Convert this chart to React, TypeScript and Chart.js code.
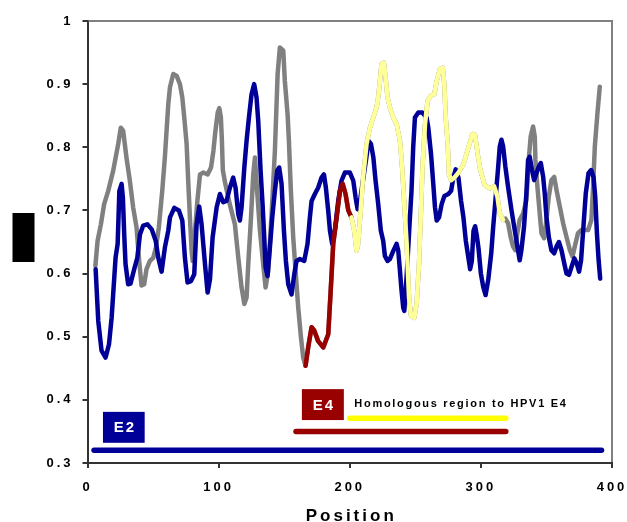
import React, { useEffect, useRef } from "react";
import { Chart, registerables } from "chart.js";

Chart.register(...registerables);

// Gray series (full profile); red and yellow are highlighted parts of it
const grayPos = [6, 7.7, 10.2, 12.7, 15.8, 19.6, 23.4, 25.4, 27.2, 29.7, 32.3, 34.8, 37.4, 39.4, 41.2, 43.2, 45, 47.6, 50.1, 52.2, 54.4, 57, 59, 60.3, 61.6, 62.9, 65.4, 68, 70.5, 72.3, 73.8, 75.6, 76.8, 78.1, 79.4, 80.2, 82, 83.8, 85.8, 88.4, 91.6, 94.2, 96, 97.3, 99.3, 100.5, 101.7, 102.5, 103.2, 105, 108.5, 112.4, 115, 117.5, 119.6, 121.3, 122.6, 124.7, 126.4, 127.7, 129, 131.5, 134, 135.8, 137.8, 140.4, 142.9, 145, 146.7, 149.3, 150.5, 152.6, 153.6, 155.1, 156.9, 158.7, 160.7, 162.8, 164.5, 166.3, 168.3, 170.9, 172.9, 175.9, 179.8, 183.6, 185.6, 187.4, 190, 192.5, 194.6, 196.8, 198.9, 201.3, 203.4, 205.2, 206.4, 208.5, 210.2, 212.8, 215.4, 217.9, 220.4, 221.7, 223, 224.2, 226, 227.3, 228.8, 230.6, 233.2, 235.7, 238.3, 240.1, 241.6, 243.4, 245.2, 246.7, 249.2, 251, 252.8, 254.3, 255.6, 257.4, 259.4, 262, 264.5, 266.3, 268.8, 270.9, 272.1, 273.2, 274.7, 275.7, 277.3, 279.8, 282.9, 286.7, 290.5, 293.5, 295.5, 297.5, 299.5, 302.9, 306.8, 310.1, 312.6, 314.4, 316.9, 318.7, 320.7, 322.7, 324.5, 326.3, 327.8, 329.6, 332.2, 334.7, 336.5, 338, 339.8, 341.1, 341.6, 343.1, 344.9, 346.2, 348.2, 350, 351.8, 353.8, 355.9, 357.7, 360.2, 362.8, 365.3, 367.9, 369.9, 371.6, 374.1, 376.7, 379.2, 381.8, 384.3, 385.6, 386.9, 388.9, 390.7];
const grayVal = [0.612, 0.652, 0.678, 0.71, 0.731, 0.763, 0.805, 0.831, 0.826, 0.784, 0.747, 0.705, 0.673, 0.62, 0.581, 0.583, 0.607, 0.62, 0.625, 0.641, 0.673, 0.731, 0.784, 0.826, 0.868, 0.895, 0.916, 0.913, 0.9, 0.879, 0.847, 0.805, 0.747, 0.689, 0.636, 0.62, 0.668, 0.715, 0.757, 0.76, 0.757, 0.768, 0.794, 0.821, 0.855, 0.862, 0.848, 0.811, 0.764, 0.743, 0.71, 0.678, 0.625, 0.578, 0.552, 0.562, 0.615, 0.689, 0.757, 0.784, 0.742, 0.668, 0.615, 0.578, 0.604, 0.694, 0.794, 0.916, 0.958, 0.953, 0.905, 0.852, 0.81, 0.731, 0.657, 0.604, 0.546, 0.499, 0.467, 0.454, 0.483, 0.515, 0.51, 0.493, 0.483, 0.504, 0.578, 0.647, 0.689, 0.731, 0.742, 0.726, 0.7, 0.689, 0.668, 0.636, 0.647, 0.705, 0.752, 0.805, 0.831, 0.847, 0.863, 0.879, 0.905, 0.932, 0.934, 0.911, 0.879, 0.863, 0.847, 0.837, 0.81, 0.763, 0.71, 0.647, 0.562, 0.533, 0.53, 0.552, 0.615, 0.699, 0.773, 0.837, 0.874, 0.882, 0.884, 0.905, 0.924, 0.926, 0.9, 0.847, 0.805, 0.757, 0.748, 0.752, 0.76, 0.773, 0.8, 0.821, 0.82, 0.79, 0.765, 0.74, 0.735, 0.738, 0.722, 0.695, 0.685, 0.687, 0.68, 0.658, 0.643, 0.637, 0.664, 0.685, 0.695, 0.716, 0.78, 0.817, 0.833, 0.817, 0.78, 0.738, 0.695, 0.664, 0.656, 0.685, 0.722, 0.748, 0.753, 0.732, 0.706, 0.679, 0.658, 0.637, 0.627, 0.643, 0.664, 0.669, 0.669, 0.669, 0.685, 0.738, 0.801, 0.854, 0.896];

const redRange = [166.3, 201.3];
const yellowRange = [201.3, 316.9];

// Blue series
const bluePos = [6.2, 8.2, 10.7, 13.8, 16.4, 18.4, 21.4, 23, 24.3, 26, 27, 28, 29, 31, 32.8, 36, 38, 40, 42.5, 45.6, 49, 52, 54, 56.5, 59, 61.6, 62.9, 66.2, 69.7, 72.3, 74.3, 76.3, 78.9, 81.4, 83.2, 85.2, 87, 89.6, 91.6, 93.4, 95.4, 98.5, 101, 103.5, 106, 108.6, 111.1, 112.9, 115, 116.2, 117.5, 119.6, 121.3, 123.1, 125.1, 127.1, 128.9, 130.2, 132, 133.5, 134.8, 135.8, 137.3, 139.1, 140.9, 142.9, 144.7, 146.2, 148, 149.8, 151.3, 153.1, 155.6, 157.7, 159.4, 162, 165.3, 167.8, 169.6, 170.9, 173.4, 175.9, 178.5, 180.3, 181.8, 183.6, 184.9, 186.6, 188.6, 191.2, 193.7, 196.3, 200.1, 202.7, 204.5, 206, 207.8, 211, 214.5, 216.2, 218, 219.7, 221.7, 223.7, 225.5, 226.8, 228.8, 230.6, 233.2, 235.7, 237, 238.3, 239.5, 240.8, 241.6, 243.5, 245.9, 247.1, 248.4, 249.7, 252.3, 255.3, 258.6, 259.9, 262, 263.7, 265, 266.3, 268.1, 270.1, 272.2, 275.2, 277.3, 279, 280.8, 282.9, 284.9, 286.7, 288.5, 290.5, 291.8, 293.1, 294.4, 295.6, 296.9, 298.2, 300, 301.8, 303.6, 305.6, 307.9, 309.4, 311.1, 313.2, 314.4, 315.7, 317, 318.7, 320.7, 323.3, 325.8, 328.3, 329.6, 330.9, 332.9, 334.7, 336, 337.2, 339, 340.6, 342.4, 344.1, 345.7, 347.5, 348.7, 350, 351.8, 353.8, 355.9, 357.7, 359.5, 361.5, 363.6, 365.3, 367.2, 369.2, 371.3, 373.1, 374.9, 376.4, 378.2, 380, 382.1, 384.1, 385.9, 387.2, 388.5, 389.8, 391];
const blueVal = [0.607, 0.525, 0.478, 0.467, 0.488, 0.53, 0.625, 0.647, 0.731, 0.742, 0.72, 0.662, 0.615, 0.583, 0.584, 0.61, 0.625, 0.662, 0.676, 0.678, 0.67, 0.652, 0.625, 0.603, 0.641, 0.668, 0.689, 0.704, 0.7, 0.684, 0.625, 0.586, 0.588, 0.599, 0.678, 0.706, 0.678, 0.615, 0.57, 0.591, 0.657, 0.705, 0.726, 0.713, 0.715, 0.736, 0.752, 0.736, 0.694, 0.684, 0.705, 0.768, 0.81, 0.847, 0.884, 0.9, 0.879, 0.842, 0.763, 0.71, 0.657, 0.61, 0.596, 0.641, 0.689, 0.731, 0.763, 0.768, 0.742, 0.668, 0.62, 0.583, 0.567, 0.599, 0.62, 0.623, 0.62, 0.647, 0.689, 0.715, 0.726, 0.736, 0.752, 0.757, 0.736, 0.699, 0.668, 0.647, 0.668, 0.715, 0.747, 0.76, 0.76, 0.747, 0.72, 0.702, 0.715, 0.76, 0.81, 0.805, 0.784, 0.747, 0.71, 0.668, 0.652, 0.628, 0.62, 0.623, 0.636, 0.647, 0.636, 0.604, 0.573, 0.546, 0.541, 0.6, 0.689, 0.731, 0.8, 0.847, 0.855, 0.855, 0.847, 0.831, 0.789, 0.742, 0.705, 0.684, 0.689, 0.71, 0.723, 0.726, 0.731, 0.752, 0.765, 0.752, 0.715, 0.689, 0.652, 0.625, 0.607, 0.62, 0.668, 0.675, 0.66, 0.64, 0.6, 0.579, 0.566, 0.59, 0.632, 0.674, 0.716, 0.769, 0.801, 0.812, 0.801, 0.769, 0.738, 0.701, 0.669, 0.637, 0.621, 0.637, 0.674, 0.727, 0.78, 0.785, 0.764, 0.748, 0.759, 0.769, 0.775, 0.753, 0.727, 0.69, 0.658, 0.637, 0.632, 0.643, 0.65, 0.637, 0.616, 0.6, 0.598, 0.611, 0.624, 0.616, 0.603, 0.621, 0.674, 0.727, 0.759, 0.764, 0.753, 0.722, 0.664, 0.621, 0.592];

// Gene region bars: [start, end], level
const e2Range = [5, 392];
const e2Level = 0.32;
const e4Range = [159, 319];
const e4Level = 0.35;
const homRange = [200, 319];
const homLevel = 0.371;

// Labels
const boxLabels = ["E2", "E4"];
const boxXRanges = [[11.8, 43.6], [163.5, 195.5]];
const boxYRanges = [[0.332, 0.381], [0.368, 0.417]];
const boxColors = ["#000099", "#990000"];
const homText = "Homologous region to HPV1 E4";
const homTextAt = [203.5, 0.393];
const xTitle = "Position";

const xTicks = [0, 100, 200, 300, 400];
const yTicks = [0.3, 0.4, 0.5, 0.6, 0.7, 0.8, 0.9, 1];
const yTickLabels = ["0.3", "0.4", "0.5", "0.6", "0.7", "0.8", "0.9", "1"];

const FONT = "'Liberation Sans', Arial, sans-serif";

const decorPlugin = {
  id: "decor",
  beforeDraw(chart: any) {
    (chart.ctx as any).letterSpacing = "3px";
  },
  afterDraw(chart: any) {
    const { ctx, chartArea, scales } = chart;
    const xs = scales.x;
    const ys = scales.y;
    ctx.save();
    // frame (top and right)
    ctx.strokeStyle = "#808080";
    ctx.lineWidth = 2;
    ctx.beginPath();
    ctx.moveTo(chartArea.left + 1, chartArea.top);
    ctx.lineTo(chartArea.right, chartArea.top);
    ctx.lineTo(chartArea.right, chartArea.bottom - 1);
    ctx.stroke();
    // y-axis title (rendered as a solid block in the reference)
    const midY = (chartArea.top + chartArea.bottom) / 2;
    ctx.fillStyle = "#000";
    ctx.fillRect(chartArea.left - 75, midY - 29, 22, 49);
    // x-axis title
    (ctx as any).letterSpacing = "3px";
    ctx.font = `bold 17px ${FONT}`;
    ctx.textAlign = "center";
    ctx.textBaseline = "alphabetic";
    ctx.fillText(xTitle, (chartArea.left + chartArea.right) / 2 + 1.5, 521);
    // boxes
    boxLabels.forEach((lab, i) => {
      const x1 = xs.getPixelForValue(boxXRanges[i][0]);
      const x2 = xs.getPixelForValue(boxXRanges[i][1]);
      const y1 = ys.getPixelForValue(boxYRanges[i][1]);
      const y2 = ys.getPixelForValue(boxYRanges[i][0]);
      ctx.fillStyle = boxColors[i];
      ctx.fillRect(x1, y1, x2 - x1, y2 - y1);
      ctx.fillStyle = "#fff";
      (ctx as any).letterSpacing = "2px";
      ctx.font = `bold 15px ${FONT}`;
      ctx.textAlign = "center";
      ctx.textBaseline = "middle";
      ctx.fillText(lab, (x1 + x2) / 2 + 1, (y1 + y2) / 2 + 1);
    });
    (ctx as any).letterSpacing = "1.7px";
    ctx.font = `bold 11px ${FONT}`;
    ctx.fillStyle = "#000";
    ctx.textAlign = "left";
    ctx.textBaseline = "middle";
    ctx.fillText(homText, xs.getPixelForValue(homTextAt[0]), ys.getPixelForValue(homTextAt[1]));
    ctx.restore();
  },
};

function pts(pos: number[], val: number[], lo = -Infinity, hi = Infinity) {
  const out: { x: number; y: number }[] = [];
  pos.forEach((p, i) => {
    if (p >= lo && p <= hi) out.push({ x: p, y: val[i] });
  });
  return out;
}

export default function App() {
  const ref = useRef<HTMLCanvasElement | null>(null);
  useEffect(() => {
    if (!ref.current) return;
    const lineStyle = {
      borderWidth: 4.5,
      pointRadius: 0,
      tension: 0,
      borderCapStyle: "round",
      borderJoinStyle: "round",
      fill: false,
    };
    const barStyle = {
      borderWidth: 5.5,
      pointRadius: 0,
      borderCapStyle: "round",
      fill: false,
    };
    const tickFont = { family: FONT, size: 13, weight: "bold" as const };
    const chart = new Chart(ref.current, {
      type: "line",
      data: {
        datasets: [
          { ...lineStyle, data: pts(grayPos, grayVal, yellowRange[0], yellowRange[1]), borderColor: "#FFFF99", order: 0 } as any,
          { ...lineStyle, data: pts(grayPos, grayVal, redRange[0], redRange[1]), borderColor: "#990000", order: 1 } as any,
          { ...lineStyle, data: pts(bluePos, blueVal), borderColor: "#000099", order: 2 } as any,
          { ...lineStyle, data: pts(grayPos, grayVal), borderColor: "#808080", order: 3 } as any,
          { ...barStyle, data: [{ x: e2Range[0], y: e2Level }, { x: e2Range[1], y: e2Level }], borderColor: "#000099", order: 4 } as any,
          { ...barStyle, data: [{ x: e4Range[0], y: e4Level }, { x: e4Range[1], y: e4Level }], borderColor: "#990000", order: 4 } as any,
          { ...barStyle, data: [{ x: homRange[0], y: homLevel }, { x: homRange[1], y: homLevel }], borderColor: "#FFFF00", order: 4 } as any,
        ],
      },
      options: {
        animation: false,
        responsive: false,
        events: [],
        layout: { padding: { top: 21, right: 15, left: 0, bottom: 0 } },
        plugins: { legend: { display: false }, tooltip: { enabled: false } },
        scales: {
          x: {
            type: "linear",
            min: 0,
            max: 400,
            afterBuildTicks: (s: any) => {
              s.ticks = xTicks.map((v) => ({ value: v }));
            },
            afterFit: (s: any) => {
              s.height = 59;
              s.paddingLeft = 0;
              s.paddingRight = 0;
            },
            grid: { display: true, drawOnChartArea: false, drawTicks: true, tickLength: 5, color: "#333", lineWidth: 2 },
            border: { display: true, color: "#333", width: 2 },
            ticks: { font: tickFont, color: "#000", padding: 12, maxRotation: 0, autoSkip: false },
          },
          y: {
            type: "linear",
            min: 0.3,
            max: 1,
            afterBuildTicks: (s: any) => {
              s.ticks = yTicks.map((v) => ({ value: v }));
            },
            afterFit: (s: any) => {
              s.width = 87.5;
              s.paddingTop = 0;
              s.paddingBottom = 0;
            },
            grid: { display: true, drawOnChartArea: false, drawTicks: true, tickLength: 5, color: "#333", lineWidth: 2 },
            border: { display: true, color: "#333", width: 2 },
            ticks: {
              font: tickFont,
              color: "#000",
              padding: 9,
              autoSkip: false,
              callback: (v: any) => {
                const i = yTicks.findIndex((t) => Math.abs(t - Number(v)) < 1e-6);
                return i >= 0 ? yTickLabels[i] : "";
              },
            },
          },
        },
      } as any,
      plugins: [decorPlugin as any],
    });
    return () => chart.destroy();
  }, []);
  return (
    <div style={{ position: "absolute", left: 0, top: 0, width: 627, height: 522, background: "#fff" }}>
      <canvas ref={ref} width={627} height={522} style={{ display: "block" }} />
    </div>
  );
}
